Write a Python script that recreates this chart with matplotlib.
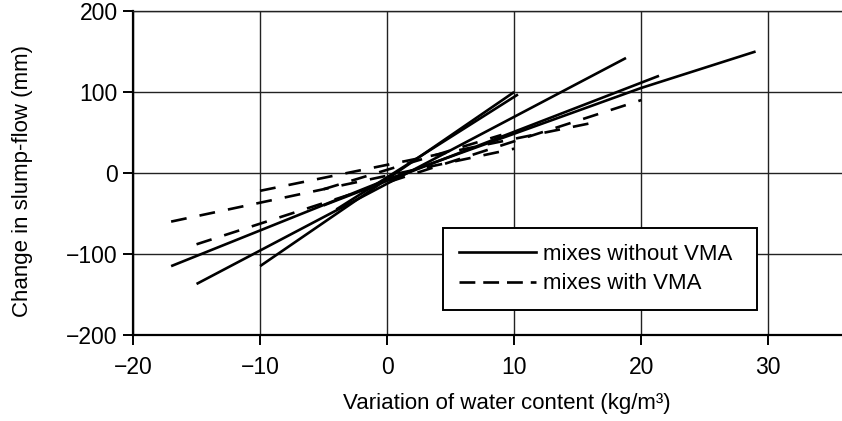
import matplotlib
matplotlib.use("Agg")
import matplotlib.pyplot as plt
from matplotlib.lines import Line2D

plt.rcParams['font.family'] = ['Liberation Sans', 'DejaVu Sans']

# Mixes without VMA (solid lines): x and y points of each line
solid_x = [
    [-17, 0, 20, 29],
    [-15, 18.8],
    [-10, 10],
    [-4, 10.3],
    [-5, 21.4],
]
solid_y = [
    [-115, -8, 105, 150],
    [-137, 142],
    [-115, 100],
    [-45, 97],
    [-40, 120],
]

# Mixes with VMA (dashed lines)
dashed_x = [
    [-17, 10],
    [-15, 20],
    [-10, 16.8],
    [-5, 9],
]
dashed_y = [
    [-60, 30],
    [-88, 90],
    [-22, 64],
    [-20, 47],
]

x_ticks = [-20, -10, 0, 10, 20, 30]
y_ticks = [-200, -100, 0, 100, 200]
legend_labels = ["mixes without VMA", "mixes with VMA"]

fig = plt.figure(figsize=(8.42, 4.21), dpi=100)
L, R, T, B = 133, 842, 11, 335
ax = fig.add_axes([L / 842, 1 - B / 421, (R - L) / 842, (B - T) / 421])

for xs, ys in zip(solid_x, solid_y):
    ax.plot(xs, ys, color='black', lw=1.9, solid_capstyle='butt', zorder=3)
for xs, ys in zip(dashed_x, dashed_y):
    ax.plot(xs, ys, color='black', lw=1.9, dashes=(6, 5), dash_capstyle='butt', zorder=3)

ax.set_xlim(-20, 35.8)
ax.set_ylim(-200, 200)
ax.set_xticks(x_ticks)
ax.set_yticks(y_ticks)
ax.set_xticklabels([str(v).replace('-', '\u2212') for v in x_ticks])
ax.set_yticklabels([str(v).replace('-', '\u2212') for v in y_ticks])
ax.grid(True, color='#222222', lw=1.0)
ax.set_axisbelow(True)
ax.spines['right'].set_visible(False)
ax.spines['top'].set_linewidth(1.0)
ax.spines['top'].set_color('#222222')
ax.spines['left'].set_linewidth(1.6)
ax.spines['bottom'].set_linewidth(1.6)
ax.tick_params(axis='both', direction='out', length=7, width=1.4, labelsize=16.5,
               colors='black', pad=4)
ax.tick_params(axis='x', pad=8)

ax.set_xlabel("Variation of water content (kg/m\u00b3)", fontsize=16)
ax.set_ylabel("Change in slump-flow (mm)", fontsize=16)
ax.xaxis.set_label_coords((507 - L) / (R - L), -(403 - B) / (B - T))
ax.yaxis.set_label_coords(-(L - 23) / (R - L), (B - 181) / (B - T))
ax.xaxis.label.set_va('center')
ax.yaxis.label.set_va('center')

handles = [Line2D([], [], color='black', lw=1.9),
           Line2D([], [], color='black', lw=1.9, dashes=(6, 3))]
leg = ax.legend(handles, legend_labels, loc='lower left',
                bbox_to_anchor=((443 - L) / (R - L), (B - 310) / (B - T),
                                (757 - 443) / (R - L), (310 - 225) / (B - T)),
                mode='expand', fontsize=16, frameon=True, fancybox=False,
                handlelength=3.5, handletextpad=0.3, borderpad=0.7,
                labelspacing=0.4, borderaxespad=0)
leg.get_frame().set_edgecolor('black')
leg.get_frame().set_linewidth(1.4)
leg.get_frame().set_alpha(1)

fig.savefig("out.png", dpi=100)
